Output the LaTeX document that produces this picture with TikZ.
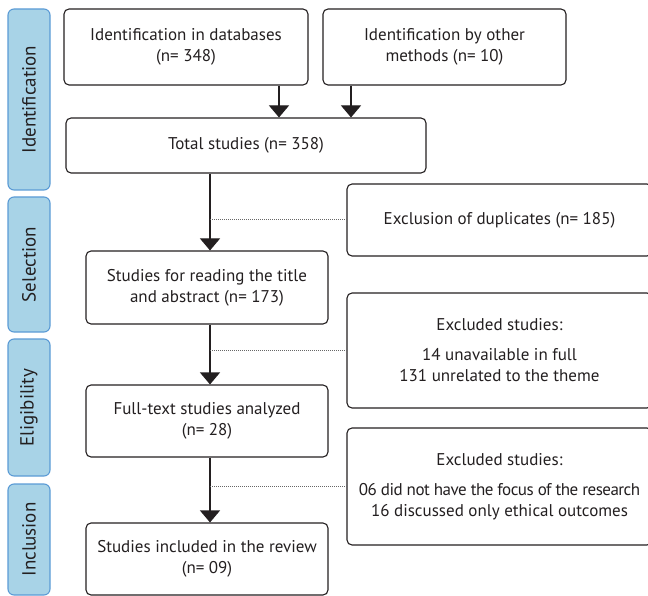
\documentclass[tikz,border=0pt]{standalone}
\usepackage{fontspec}
\setmainfont{PT Sans}
\usetikzlibrary{arrows.meta}
\definecolor{stagefill}{HTML}{A8D3E7}
\definecolor{stageline}{HTML}{5B9BD5}
\definecolor{ink}{HTML}{231F20}
\begin{document}
\begin{tikzpicture}[x=1pt,y=-1pt,
  font=\fontsize{17}{21}\selectfont,
  every node/.style={text=ink},
  stage/.style={draw=stageline,fill=stagefill,line width=1.1pt,rounded corners=6pt,
    minimum width=42pt,inner sep=0pt},
  stagelabel/.style={rotate=90,font=\fontsize{19}{23}\selectfont},
  box/.style={draw=ink,line width=1.1pt,rounded corners=5pt,align=center,inner sep=0pt},
  arr/.style={draw=ink,line width=1.1pt,-{Triangle[width=20pt,length=12pt]}},
  dots/.style={draw=gray!80!black,line width=1pt,dash pattern=on 1pt off 1pt}]
  \useasboundingbox (0,0) rectangle (648,596);
  % stages
  \node[stage,minimum height=181pt] (sident) at (29,99.5) {};
  \node[stage,minimum height=135pt] (ssel) at (29,264.5) {};
  \node[stage,minimum height=137pt] (selig) at (29,407.5) {};
  \node[stage,minimum height=111pt] (sincl) at (29,539.5) {};
  \node[stagelabel] at (sident) {Identification};
  \node[stagelabel] at (ssel) {Selection};
  \node[stagelabel] at (selig) {Eligibility};
  \node[stagelabel] at (sincl) {Inclusion};
  % main flow
  \node[box,minimum width=244pt,minimum height=76pt] (db) at (186,47)
    {Identification in databases\\(n= 348)};
  \node[box,minimum width=243pt,minimum height=76pt] (other) at (444.5,47)
    {Identification by other\\methods (n= 10)};
  \node[box,minimum width=360pt,minimum height=55pt] (total) at (246,145.5)
    {Total studies (n= 358)};
  \node[box,minimum width=242pt,minimum height=73pt] (read) at (207,287.5)
    {Studies for reading the title\\and abstract (n= 173)};
  \node[box,minimum width=242pt,minimum height=72pt] (full) at (207,421)
    {Full-text studies analyzed\\(n= 28)};
  \node[box,minimum width=242pt,minimum height=72pt] (incl) at (207,559)
    {Studies included in the review\\(n= 09)};
  % exclusions
  \node[box,minimum width=305pt,minimum height=72pt] (dup) at (499.5,220)
    {Exclusion of duplicates (n= 185)};
  \node[box,minimum width=305pt,minimum height=115pt] (exa) at (499.5,350.5)
    {Excluded studies:\\[9pt]14 unavailable in full\\131 unrelated to the theme};
  \node[box,minimum width=305pt,minimum height=117pt] (exb) at (499.5,486.5)
    {Excluded studies:\\[9pt]{\addfontfeature{LetterSpace=-3}06 did not have the focus of the research}\\16 discussed only ethical outcomes};
  \coordinate (spine) at (210,0);
  \coordinate (left) at (279,0);
  \coordinate (right) at (351,0);
  \draw[arr] (db.south -| left) -- (total.north -| left);
  \draw[arr] (other.south -| right) -- (total.north -| right);
  \draw[arr] (total.south -| spine) -- (read.north -| spine);
  \draw[arr] (read.south -| spine) -- (full.north -| spine);
  \draw[arr] (full.south -| spine) -- (incl.north -| spine);
  \draw[dots] (dup.west -| spine) -- (dup.west);
  \draw[dots] (exa.west -| spine) -- (exa.west);
  \draw[dots] (exb.west -| spine) -- (exb.west);
\end{tikzpicture}
\end{document}
